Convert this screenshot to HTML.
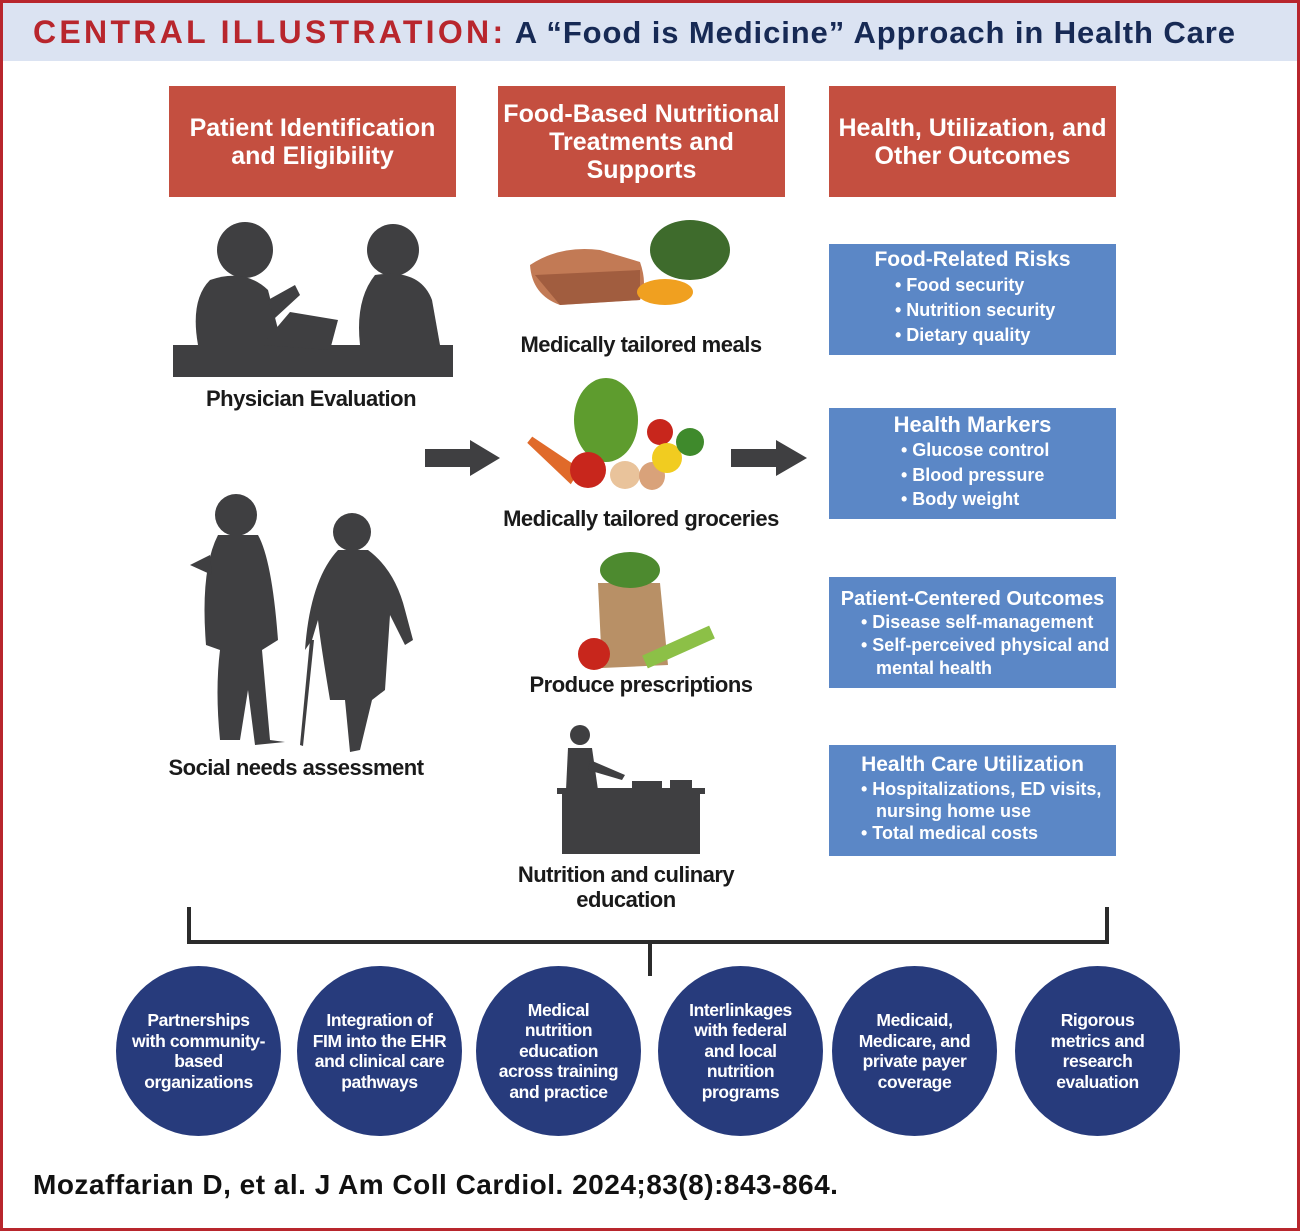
<!DOCTYPE html>
<html><head><meta charset="utf-8"><style>
*{margin:0;padding:0;box-sizing:border-box}
body{width:1300px;height:1231px;background:#fff;position:relative;overflow:hidden;font-family:"Liberation Sans Narrow","Liberation Sans",sans-serif;font-weight:bold}
.frame{position:absolute;left:0;top:0;width:1300px;height:1231px;border:3px solid #b8262d}
.hdr{position:absolute;left:3px;top:3px;width:1294px;height:58px;background:#dbe3f2}
.t{position:absolute;white-space:nowrap}
.red{position:absolute;background:#c44f40;color:#fff;font-size:25px;text-align:center;display:flex;align-items:center;justify-content:center;line-height:28px;top:86px;width:287px;height:111px;font-family:"Liberation Sans",sans-serif}
.blue{position:absolute;left:829px;width:287px;height:111px;background:#5b87c6;color:#fff;font-size:18px;line-height:25px;font-family:"Liberation Sans",sans-serif}
.blue h4{text-align:center;font-size:21px;line-height:26px;margin-top:3px}
.blue div{padding-left:30px}
.lab{position:absolute;font-size:22px;color:#1a1a1a;text-align:center;white-space:nowrap;font-family:"Liberation Sans",sans-serif;letter-spacing:-0.5px}
.c{position:absolute;top:966px;width:165px;height:170px;border-radius:50%;background:#273b7c;color:#fff;font-size:17.5px;line-height:20.5px;display:flex;align-items:center;justify-content:center;text-align:center;font-family:"Liberation Sans",sans-serif;letter-spacing:-0.4px}
</style></head><body>
<div class="hdr"></div>
<div class="t" style="left:33px;top:14px;font-size:32px;font-family:'Liberation Sans',sans-serif;letter-spacing:3.3px;color:#b8262d">CENTRAL ILLUSTRATION:<span style="color:#172a55;letter-spacing:0.9px;font-size:31px"> A “Food is Medicine” Approach in Health Care</span></div>

<div class="red" style="left:169px">Patient Identification<br>and Eligibility</div>
<div class="red" style="left:498px">Food-Based Nutritional<br>Treatments and<br>Supports</div>
<div class="red" style="left:829px">Health, Utilization, and<br>Other Outcomes</div>

<div class="blue" style="top:244px"><h4>Food-Related Risks</h4><div style="padding-left:66px">• Food security<br>• Nutrition security<br>• Dietary quality</div></div>
<div class="blue" style="top:408px"><h4 style="font-size:22px;margin-top:4px">Health Markers</h4><div style="padding-left:72px;line-height:24.5px">• Glucose control<br>• Blood pressure<br>• Body weight</div></div>
<div class="blue" style="top:577px"><h4 style="font-size:20px;margin-top:9px">Patient-Centered Outcomes</h4><div style="padding-left:32px;line-height:21px">• Disease self-management<br><span style="line-height:25px">• Self-perceived physical and</span><br>&nbsp;&nbsp;&nbsp;mental health</div></div>
<div class="blue" style="top:745px"><h4 style="font-size:21px;margin-top:7px">Health Care Utilization</h4><div style="padding-left:32px;line-height:22px">• Hospitalizations, ED visits,<br>&nbsp;&nbsp;&nbsp;nursing home use<br>• Total medical costs</div></div>

<svg style="position:absolute;left:0;top:0" width="1300" height="1231">
 <g fill="#3f3f41">
  <rect x="173" y="345" width="280" height="32"/>
  <circle cx="245" cy="250" r="28"/>
  <path d="M210 280 Q245 268 268 290 L282 345 L198 345 Q190 300 210 280Z"/>
  <path d="M268 300 L295 285 L300 295 L275 318Z"/>
  <path d="M262 345 L290 312 L338 320 L330 350Z"/>
  <circle cx="393" cy="250" r="26"/>
  <path d="M375 275 Q420 268 432 300 L440 345 L360 345 Q355 300 375 275Z"/>
 </g>
 <g fill="#3f3f41">
  <circle cx="236" cy="515" r="21"/>
  <path d="M218 535 L258 535 Q272 560 278 640 L262 650 L270 740 L285 742 L255 745 L248 690 L240 740 L220 740 Q215 690 220 650 L206 645 Q200 570 218 535Z"/>
  <path d="M190 565 L210 555 L212 575 Z"/>
  <circle cx="352" cy="532" r="19"/>
  <path d="M338 550 L368 550 Q395 570 405 610 L413 640 L405 645 L390 615 L385 690 L372 700 L360 750 L350 752 L345 700 L330 700 Q320 640 318 620 L312 640 L305 650 Q310 580 338 550Z"/>
  <path d="M310 640 L300 745 L303 746 L314 640Z"/>
 </g>
 <g fill="#3f3f41">
  <rect x="562" y="792" width="138" height="62"/>
  <rect x="557" y="788" width="148" height="6"/>
  <circle cx="580" cy="735" r="10"/>
  <path d="M568 748 L592 748 L598 790 L566 790Z"/>
  <path d="M590 760 L625 775 L622 780 L588 770Z"/>
  <rect x="632" y="781" width="30" height="7"/>
  <rect x="670" y="780" width="22" height="8"/>
 </g>
 <path d="M530 265 Q560 245 600 250 L640 262 Q648 285 640 300 L560 305 Q532 295 530 265Z" fill="#c27a55"/>
 <path d="M535 275 L640 270 L640 300 L560 305Z" fill="#8a4a30" opacity=".6"/>
 <ellipse cx="690" cy="250" rx="40" ry="30" fill="#3e6b2c"/>
 <ellipse cx="665" cy="292" rx="28" ry="13" fill="#f0a020"/>
 <ellipse cx="606" cy="420" rx="32" ry="42" fill="#5e9c2e"/>
 <path d="M530 440 L575 470 L570 478 Z" fill="#e06a2a" stroke="#e06a2a" stroke-width="8"/>
 <circle cx="588" cy="470" r="18" fill="#c8261c"/>
 <ellipse cx="625" cy="475" rx="15" ry="14" fill="#e9c39b"/>
 <ellipse cx="652" cy="476" rx="13" ry="14" fill="#d9a27a"/>
 <circle cx="660" cy="432" r="13" fill="#c8261c"/>
 <circle cx="667" cy="458" r="15" fill="#f1cc20"/>
 <circle cx="690" cy="442" r="14" fill="#3f8a2c"/>
 <path d="M598 583 L660 583 L668 665 L602 668Z" fill="#b89066"/>
 <ellipse cx="630" cy="570" rx="30" ry="18" fill="#4d8a2f"/>
 <circle cx="594" cy="654" r="16" fill="#c8261c"/>
 <path d="M645 662 L712 632" stroke="#8cc047" stroke-width="14"/>
 <path d="M425 449 L470 449 L470 440 L500 458 L470 476 L470 467 L425 467Z" fill="#3f3f41"/>
 <path d="M731 449 L776 449 L776 440 L807 458 L776 476 L776 467 L731 467Z" fill="#3f3f41"/>
 <path d="M189 907 L189 942 L1107 942 L1107 907 M650 942 L650 976" stroke="#2b2b2b" stroke-width="4" fill="none"/>
</svg>

<div class="lab" style="left:311px;top:386px;transform:translateX(-50%)">Physician Evaluation</div>
<div class="lab" style="left:296px;top:755px;transform:translateX(-50%)">Social needs assessment</div>
<div class="lab" style="left:641px;top:332px;transform:translateX(-50%)">Medically tailored meals</div>
<div class="lab" style="left:641px;top:506px;transform:translateX(-50%)">Medically tailored groceries</div>
<div class="lab" style="left:641px;top:672px;transform:translateX(-50%)">Produce prescriptions</div>
<div class="lab" style="left:626px;top:862px;transform:translateX(-50%);line-height:25px">Nutrition and culinary<br>education</div>

<div class="c" style="left:116px">Partnerships<br>with community-<br>based<br>organizations</div>
<div class="c" style="left:297px">Integration of<br>FIM into the EHR<br>and clinical care<br>pathways</div>
<div class="c" style="left:476px">Medical<br>nutrition<br>education<br>across training<br>and practice</div>
<div class="c" style="left:658px">Interlinkages<br>with federal<br>and local<br>nutrition<br>programs</div>
<div class="c" style="left:832px">Medicaid,<br>Medicare, and<br>private payer<br>coverage</div>
<div class="c" style="left:1015px">Rigorous<br>metrics and<br>research<br>evaluation</div>

<div class="t" style="left:33px;top:1169px;font-size:28px;color:#111;font-family:'Liberation Sans',sans-serif;letter-spacing:0.5px">Mozaffarian D, et al. J Am Coll Cardiol. 2024;83(8):843-864.</div>
<div class="frame"></div>
</body></html>
